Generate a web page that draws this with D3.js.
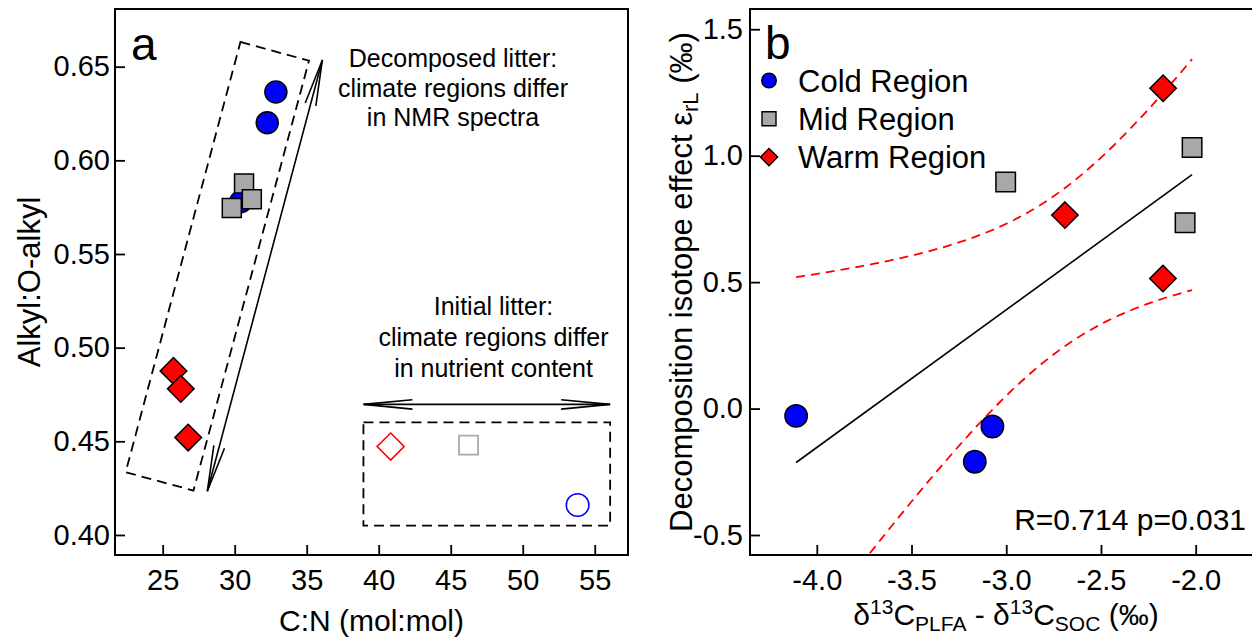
<!DOCTYPE html>
<html><head><meta charset="utf-8">
<script src="https://cdn.jsdelivr.net/npm/d3@7/dist/d3.min.js"></script>
<style>
html,body{margin:0;padding:0;background:#fff;}
svg{display:block;font-family:"Liberation Sans",Arial,Helvetica,sans-serif;}
</style></head>
<body><svg id="chart" width="1252" height="640"></svg>
<script>
// ---------- Panel a data (C:N vs Alkyl:O-alkyl) ----------
const decompColdCN    = [32.86, 32.26, 30.42];
const decompColdAlkyl = [0.6365, 0.6201, 0.5779];
const decompMidCN     = [30.65, 31.19, 29.80];
const decompMidAlkyl  = [0.5877, 0.5792, 0.5746];
const decompWarmCN    = [25.75, 26.26, 26.77];
const decompWarmAlkyl = [0.4876, 0.4780, 0.4520];
const initColdCN = [53.81], initColdAlkyl = [0.4160];
const initMidCN  = [46.24], initMidAlkyl  = [0.4480];
const initWarmCN = [40.83], initWarmAlkyl = [0.4472];
const aXTicks = [25, 30, 35, 40, 45, 50, 55];
const aYTicks = [0.40, 0.45, 0.50, 0.55, 0.60, 0.65];
// annotation geometry (data units)
const decompBoxCN    = [30.40, 35.16, 27.14, 22.43];
const decompBoxAlkyl = [0.6632, 0.6532, 0.4237, 0.4335];
const decompArrowCN    = [36.09, 28.10];
const decompArrowAlkyl = [0.6536, 0.4233];
const initBoxCN    = [38.94, 56.07];
const initBoxAlkyl = [0.4601, 0.4050];
const initArrowCN    = [38.94, 56.07];
const initArrowAlkyl = [0.4697, 0.4697];
const decompText = ["Decomposed litter:", "climate regions differ", "in NMR spectra"];
const initText   = ["Initial litter:", "climate regions differ", "in nutrient content"];

// ---------- Panel b data ----------
const coldX = [-4.109, -3.073, -3.166];
const coldY = [-0.029, -0.071, -0.210];
const midX  = [-3.003, -2.019, -2.056];
const midY  = [0.896, 1.032, 0.735];
const warmX = [-2.172, -2.690, -2.173];
const warmY = [1.267, 0.765, 0.514];
const bXTicks = [-4.0, -3.5, -3.0, -2.5, -2.0];
const bYTicks = [-0.5, 0.0, 0.5, 1.0, 1.5];
const legendLabels = ["Cold Region", "Mid Region", "Warm Region"];
const statText = "R=0.714 p=0.031";

const BLUE = "#0000ff", GRAY = "#a8a8a8", RED = "#ff0000";
const svg = d3.select("#chart");
svg.append("rect").attr("width",1252).attr("height",640).attr("fill","#fff");

function circlePath(r){ return `M${r},0A${r},${r} 0 1,1 ${-r},0A${r},${r} 0 1,1 ${r},0Z`; }
function squarePath(s){ const h=s/2; return `M${-h},${-h}H${h}V${h}H${-h}Z`; }
function diamondPath(h){ return `M0,${-h}L${h},0L0,${h}L${-h},0Z`; }

function drawPoints(g, xs, ys, sx, sy, path, fill, stroke, sw){
  g.selectAll(null).data(xs.map((x,i)=>[x,ys[i]])).enter().append("path")
   .attr("d", path)
   .attr("transform", d=>`translate(${sx(d[0])},${sy(d[1])})`)
   .attr("fill", fill).attr("stroke", stroke).attr("stroke-width", sw);
}
function arrowHead(g, tx, ty, fx, fy, len, half){
  const dx=fx-tx, dy=fy-ty, L=Math.hypot(dx,dy), ux=dx/L, uy=dy/L;
  const bx=tx+ux*len, by=ty+uy*len, px=-uy, py=ux;
  g.append("path").attr("d",`M${bx+px*half},${by+py*half}L${tx},${ty}L${bx-px*half},${by-py*half}`)
   .attr("fill","none").attr("stroke","#000").attr("stroke-width",1.6);
}

const TICKFS = 29;

// ================= Panel a =================
{
  const L=115, R=628, T=9, B=555;
  const x = d3.scaleLinear().domain([21.69, 57.31]).range([L, R]);
  const y = d3.scaleLinear().domain([0.3893, 0.6808]).range([B, T]);
  const g = svg.append("g");

  const xAxis = d3.axisBottom(x).tickValues(aXTicks).tickSize(-10).tickPadding(14).tickFormat(d3.format("d"));
  const gx = g.append("g").attr("transform",`translate(0,${B})`).call(xAxis);
  const yAxis = d3.axisLeft(y).tickValues(aYTicks).tickSize(-10).tickPadding(5).tickFormat(d3.format(".2f"));
  const gy = g.append("g").attr("transform",`translate(${L},0)`).call(yAxis);
  [gx,gy].forEach(a=>{ a.select(".domain").remove(); a.selectAll(".tick line").attr("stroke","#000").attr("stroke-width",1.8);
    a.selectAll("text").attr("font-size",TICKFS).attr("fill","#000").attr("font-family","Liberation Sans, Arial, sans-serif"); });
  gx.selectAll("text").attr("dy","0.71em");
  g.append("rect").attr("x",L).attr("y",T).attr("width",R-L).attr("height",B-T)
   .attr("fill","none").attr("stroke","#000").attr("stroke-width",2);

  // tilted dashed box
  const boxPts = decompBoxCN.map((c,i)=>[x(c), y(decompBoxAlkyl[i])]);
  g.append("path").attr("d", d3.line()(boxPts)+"Z").attr("fill","none")
   .attr("stroke","#000").attr("stroke-width",1.8).attr("stroke-dasharray","10,6");
  // long double arrow
  const a0=[x(decompArrowCN[0]), y(decompArrowAlkyl[0])], a1=[x(decompArrowCN[1]), y(decompArrowAlkyl[1])];
  g.append("line").attr("x1",a0[0]).attr("y1",a0[1]).attr("x2",a1[0]).attr("y2",a1[1]).attr("stroke","#000").attr("stroke-width",1.6);
  arrowHead(g, a0[0],a0[1], a1[0],a1[1], 46, 5.5);
  arrowHead(g, a1[0],a1[1], a0[0],a0[1], 46, 5.5);

  // initial litter box + arrow
  g.append("rect").attr("x",x(initBoxCN[0])).attr("y",y(initBoxAlkyl[0]))
   .attr("width",x(initBoxCN[1])-x(initBoxCN[0])).attr("height",y(initBoxAlkyl[1])-y(initBoxAlkyl[0]))
   .attr("fill","none").attr("stroke","#000").attr("stroke-width",1.8).attr("stroke-dasharray","10,6");
  const h0=[x(initArrowCN[0]), y(initArrowAlkyl[0])], h1=[x(initArrowCN[1]), y(initArrowAlkyl[1])];
  g.append("line").attr("x1",h0[0]).attr("y1",h0[1]).attr("x2",h1[0]).attr("y2",h1[1]).attr("stroke","#000").attr("stroke-width",1.6);
  arrowHead(g, h0[0],h0[1], h1[0],h1[1], 49, 4.7);
  arrowHead(g, h1[0],h1[1], h0[0],h0[1], 49, 4.7);

  // points
  drawPoints(g, decompColdCN, decompColdAlkyl, x, y, circlePath(11), BLUE, "#000", 1.5);
  drawPoints(g, decompMidCN, decompMidAlkyl, x, y, squarePath(19), GRAY, "#000", 1.5);
  drawPoints(g, decompWarmCN, decompWarmAlkyl, x, y, diamondPath(13.3), RED, "#000", 1.5);
  drawPoints(g, initWarmCN, initWarmAlkyl, x, y, diamondPath(13.5), "none", RED, 1.6);
  drawPoints(g, initMidCN, initMidAlkyl, x, y, squarePath(19), "none", "#aaaaaa", 1.8);
  drawPoints(g, initColdCN, initColdAlkyl, x, y, circlePath(11.3), "none", BLUE, 1.6);

  // texts
  g.append("text").attr("x",131).attr("y",60).attr("font-size",46).text("a");
  decompText.forEach((t,i)=> g.append("text").attr("x",453).attr("y",67.3+i*29.2)
     .attr("text-anchor","middle").attr("font-size",25).text(t));
  initText.forEach((t,i)=> g.append("text").attr("x",493.5).attr("y",315+i*30.8)
     .attr("text-anchor","middle").attr("font-size",25).text(t));
  g.append("text").attr("x",(L+R)/2).attr("y",631).attr("text-anchor","middle").attr("font-size",30).text("C:N (mol:mol)");
  g.append("text").attr("transform",`translate(40,${(T+B)/2}) rotate(-90)`).attr("text-anchor","middle")
   .attr("font-size",31).text("Alkyl:O-alkyl");
}

// ================= Panel b =================
{
  const L=750, R=1262, T=9, B=555;
  const x = d3.scaleLinear().domain([-4.3525, -1.65]).range([L, R]);
  const y = d3.scaleLinear().domain([-0.579, 1.580]).range([B, T]);
  const g = svg.append("g");
  const xAxis = d3.axisBottom(x).tickValues(bXTicks).tickSize(-10).tickPadding(14).tickFormat(d3.format(".1f"));
  const gx = g.append("g").attr("transform",`translate(0,${B})`).call(xAxis);
  const yAxis = d3.axisLeft(y).tickValues(bYTicks).tickSize(-10).tickPadding(7).tickFormat(d3.format(".1f"));
  const gy = g.append("g").attr("transform",`translate(${L},0)`).call(yAxis);
  [gx,gy].forEach(a=>{ a.select(".domain").remove(); a.selectAll(".tick line").attr("stroke","#000").attr("stroke-width",1.8);
    a.selectAll("text").attr("font-size",TICKFS).attr("fill","#000").attr("font-family","Liberation Sans, Arial, sans-serif"); });
  gx.selectAll("text").attr("dy","0.71em").text(d=>d3.format(".1f")(d).replace("−","-"));
  gy.selectAll("text").text(d=>d3.format(".1f")(d).replace("−","-"));
  g.append("rect").attr("x",L).attr("y",T).attr("width",R-L).attr("height",B-T)
   .attr("fill","none").attr("stroke","#000").attr("stroke-width",2);

  // regression + 95% CI computed from the data
  const xs = coldX.concat(midX, warmX), ys = coldY.concat(midY, warmY);
  const n = xs.length, mx = d3.mean(xs), my = d3.mean(ys);
  let sxx=0, sxy=0;
  xs.forEach((v,i)=>{ sxx+=(v-mx)*(v-mx); sxy+=(v-mx)*(ys[i]-my); });
  const b1 = sxy/sxx, b0 = my - b1*mx;
  let sse=0; xs.forEach((v,i)=>{ const r=ys[i]-(b0+b1*v); sse+=r*r; });
  const s = Math.sqrt(sse/(n-2)), tcrit = 2.364624;
  const [xmin,xmax] = d3.extent(xs);
  const grid = d3.range(0,61).map(i=> xmin + (xmax-xmin)*i/60);
  const clipId="clipb";
  svg.append("defs").append("clipPath").attr("id",clipId).append("rect").attr("x",L).attr("y",T).attr("width",R-L).attr("height",B-T);
  const cg = g.append("g").attr("clip-path",`url(#${clipId})`);
  const line = d3.line().x(d=>x(d[0])).y(d=>y(d[1]));
  const se = v => tcrit*s*Math.sqrt(1/n + (v-mx)*(v-mx)/sxx);
  cg.append("path").attr("d", line(grid.map(v=>[v, b0+b1*v+se(v)]))).attr("fill","none")
    .attr("stroke",RED).attr("stroke-width",1.8).attr("stroke-dasharray","9,6");
  cg.append("path").attr("d", line(grid.map(v=>[v, b0+b1*v-se(v)]))).attr("fill","none")
    .attr("stroke",RED).attr("stroke-width",1.8).attr("stroke-dasharray","9,6");
  cg.append("path").attr("d", line([[xmin,b0+b1*xmin],[xmax,b0+b1*xmax]])).attr("fill","none")
    .attr("stroke","#000").attr("stroke-width",1.6);

  drawPoints(g, midX, midY, x, y, squarePath(19.5), GRAY, "#000", 1.5);
  drawPoints(g, warmX, warmY, x, y, diamondPath(13.2), RED, "#000", 1.5);
  drawPoints(g, coldX, coldY, x, y, circlePath(11.2), BLUE, "#000", 1.5);

  // legend
  const legPaths = [circlePath(7.3), squarePath(14), diamondPath(8.6)];
  const legFill = [BLUE, GRAY, RED];
  legendLabels.forEach((t,i)=>{
    const cy = 80.5 + i*38.3;
    g.append("path").attr("d",legPaths[i]).attr("transform",`translate(769,${cy})`)
     .attr("fill",legFill[i]).attr("stroke","#000").attr("stroke-width",1.4);
    g.append("text").attr("x",798).attr("y",cy+11.2).attr("font-size",31).text(t);
  });
  g.append("text").attr("x",765).attr("y",59).attr("font-size",46).text("b");
  g.append("text").attr("x",1246).attr("y",530).attr("text-anchor","end").attr("font-size",30).text(statText);

  // x title
  const xt = g.append("text").attr("x",(L+R)/2).attr("y",625).attr("text-anchor","middle").attr("font-size",30);
  xt.append("tspan").text("δ");
  xt.append("tspan").attr("dy",-11).attr("font-size",21).text("13");
  xt.append("tspan").attr("dy",11).text("C");
  xt.append("tspan").attr("dy",6).attr("font-size",21).text("PLFA");
  xt.append("tspan").attr("dy",-6).text(" - δ");
  xt.append("tspan").attr("dy",-11).attr("font-size",21).text("13");
  xt.append("tspan").attr("dy",11).text("C");
  xt.append("tspan").attr("dy",6).attr("font-size",21).text("SOC");
  xt.append("tspan").attr("dy",-6).text(" (‰)");

  // y title
  const yt = g.append("text").attr("transform",`translate(692,${(T+B)/2}) rotate(-90)`)
    .attr("text-anchor","middle").attr("font-size",31);
  yt.append("tspan").text("Decomposition isotope effect ε");
  yt.append("tspan").attr("dy",6).attr("font-size",22).text("rL");
  yt.append("tspan").attr("dy",-6).text("  (‰)");
}
</script></body></html>
